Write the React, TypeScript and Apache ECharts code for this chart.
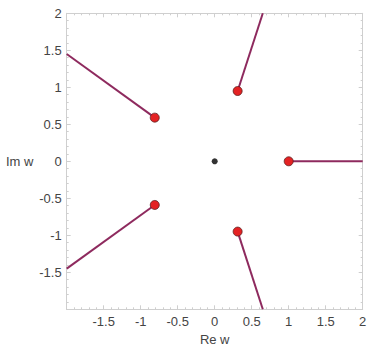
import React, { useEffect, useRef } from "react";
import * as echarts from "echarts";

const rootRe = [1, 0.31, -0.81, -0.81, 0.31];
const rootIm = [0, 0.95, 0.59, -0.59, -0.95];
const rayEndRe = [2, 0.65, -2, -2, 0.65];
const rayEndIm = [0, 2, 1.45, -1.45, -2];
const centerPoint = [0, 0];
const axisMin = -2;
const axisMax = 2;
const tickStep = 0.5;

export default function App() {
  const ref = useRef<HTMLDivElement>(null);
  useEffect(() => {
    document.body.style.margin = "0";
    const chart = echarts.init(ref.current!, null, { renderer: "svg" });
    const font = "Liberation Sans, Arial, sans-serif";
    const textColor = "#444";
    const frame = "#cfcfcf";
    const fmt = (v: number) => (v === axisMin ? "" : String(v));
    const baseAxis = (show: boolean) => ({
      type: "value",
      min: axisMin,
      max: axisMax,
      interval: tickStep,
      axisLine: { show: true, onZero: false, lineStyle: { color: frame, width: 1 } },
      axisTick: { show: true, inside: true, length: 4, lineStyle: { color: frame } },
      minorTick: { show: true, splitNumber: 5, length: 2, lineStyle: { color: frame } },
      splitLine: { show: false },
      axisLabel: {
        show,
        formatter: fmt,
        color: textColor,
        fontFamily: font,
        fontSize: 13,
      },
    });
    const rays = rootRe.map((re, i) => ({
      type: "line",
      data: [
        [re, rootIm[i]],
        [rayEndRe[i], rayEndIm[i]],
      ],
      symbol: "none",
      lineStyle: { color: "#8e2a5e", width: 2 },
      z: 2,
    }));
    chart.setOption({
      animation: false,
      grid: { left: 66.7, top: 13.3, width: 296, height: 296 },
      xAxis: [
        {
          ...baseAxis(true),
          position: "bottom",
          name: "Re w",
          nameLocation: "middle",
          nameGap: 23,
          nameTextStyle: { color: textColor, fontFamily: font, fontSize: 13, verticalAlign: "top" },
          axisLabel: { ...baseAxis(true).axisLabel, margin: 6 },
        },
        { ...baseAxis(false), position: "top" },
      ],
      yAxis: [
        {
          ...baseAxis(true),
          position: "left",
          name: "Im w",
          nameLocation: "middle",
          nameRotate: 0,
          nameGap: 29,
          nameTextStyle: { color: textColor, fontFamily: font, fontSize: 13, align: "right" },
          axisLabel: { ...baseAxis(true).axisLabel, margin: 5 },
        },
        { ...baseAxis(false), position: "right" },
      ],
      series: [
        ...rays,
        {
          type: "scatter",
          data: [centerPoint],
          symbolSize: 6,
          itemStyle: { color: "#333", opacity: 1 },
          z: 3,
        },
        {
          type: "scatter",
          data: rootRe.map((re, i) => [re, rootIm[i]]),
          symbolSize: 9,
          itemStyle: { color: "#e42223", borderColor: "#5a2020", borderWidth: 0.8, opacity: 1 },
          z: 4,
        },
      ],
    });
    return () => chart.dispose();
  }, []);
  return <div ref={ref} style={{ width: 372, height: 354 }} />;
}
